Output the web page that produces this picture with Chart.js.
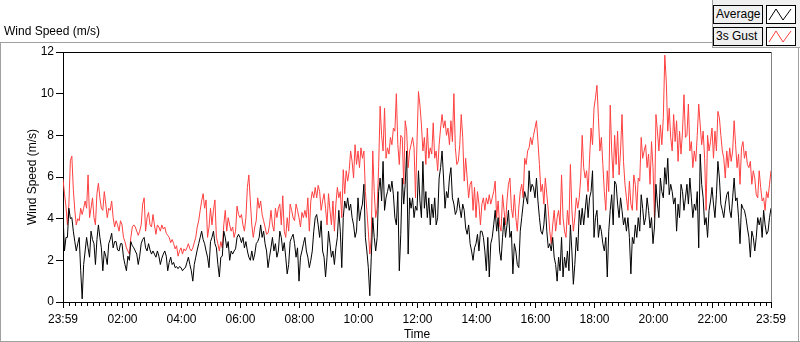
<!DOCTYPE html>
<html>
<head>
<meta charset="utf-8">
<script src="https://cdn.jsdelivr.net/npm/chart.js@4/dist/chart.umd.min.js"></script>
<style>
html,body{margin:0;padding:0;background:#fff;}
#wrap{position:relative;width:800px;height:342px;overflow:hidden;font-family:"Liberation Sans",Arial,sans-serif;font-size:12px;color:#000;}
#c{position:absolute;left:0;top:0;}
#title{position:absolute;left:4px;top:24px;white-space:nowrap;}
.fr{position:absolute;background:#a0a0a0;}
#lgArea{position:absolute;left:712px;top:0;width:88px;height:48px;background:#f0f0f0;border-left:1px solid #a0a0a0;border-bottom:1px solid #a0a0a0;box-sizing:border-box;}
.lgLbl{position:absolute;left:713px;width:50px;height:19px;box-sizing:border-box;border:1px solid #000;background:#f0f0f0;line-height:17px;padding-left:2px;white-space:nowrap;}
.lgIco{position:absolute;left:766px;width:30px;height:19px;box-sizing:border-box;border:1px solid #000;background:#fff;}
</style>
</head>
<body>
<div id="wrap">
  <canvas id="c" width="800" height="342"></canvas>
  <div id="title">Wind Speed (m/s)</div>
  <div class="fr" style="left:0;top:42px;width:712px;height:1px;"></div>
  <div class="fr" style="left:0;top:42px;width:1px;height:300px;"></div>
  <div class="fr" style="left:0;top:341px;width:800px;height:1px;"></div>
  <div class="fr" style="left:798px;top:48px;width:1px;height:294px;"></div>
  <div id="lgArea"></div>
  <div class="lgLbl" style="top:5px;">Average</div>
  <div class="lgIco" style="top:5px;"><svg width="28" height="17"><polyline points="2,14 9,3 16,14 24,3" fill="none" stroke="#000" stroke-width="1"/></svg></div>
  <div class="lgLbl" style="top:27px;">3s Gust</div>
  <div class="lgIco" style="top:27px;"><svg width="28" height="17"><polyline points="2,14 9,3 16,14 24,3" fill="none" stroke="#ff4040" stroke-width="1"/></svg></div>
</div>
<script>
// ---- data: one sample every 3 minutes, starting at 23:59 ----
const STEP_MIN = 3;
const gust = [
  // 23:59 - 04:47
  5.9,5.2,4.6,3.7,4.7,6.8,7.0,5.4,4.4,3.7,
  4.0,3.9,4.5,4.2,4.5,4.85,4.5,6.1,4.05,4.5,
  5.0,4.05,3.7,5.2,5.7,5.0,4.5,4.4,5.3,4.7,
  4.05,4.5,4.4,4.85,4.05,3.6,3.9,3.7,3.4,3.9,
  3.7,3.1,2.9,2.6,2.45,2.3,3.1,3.6,3.7,3.6,
  3.4,3.2,3.4,3.7,4.7,5.0,3.4,4.05,4.3,3.7,
  3.6,4.2,3.7,3.25,3.7,3.6,3.4,3.7,3.5,3.6,
  3.3,3.2,3.1,2.85,3.0,2.8,2.55,2.7,2.2,2.45,
  2.6,2.3,2.55,2.45,2.6,2.8,2.55,2.45,2.6,2.85,
  3.1,3.6,3.9,4.4,4.85,5.2,4.5,
  // 04:50 - 09:35
  4.9,3.1,3.6,4.5,3.7,4.4,4.9,3.1,2.8,2.45,
  2.9,2.6,3.7,4.4,3.4,4.05,3.7,3.4,3.6,3.1,
  3.4,4.6,4.2,4.05,4.2,3.7,3.4,4.05,5.5,6.1,
  4.85,3.7,3.1,3.6,3.9,5.0,4.5,4.85,4.2,3.9,
  3.6,3.25,3.3,3.7,4.4,3.7,3.4,4.5,4.05,4.5,
  4.7,3.7,5.1,3.4,3.1,4.05,3.4,4.7,4.4,4.05,
  3.9,4.7,4.4,4.05,3.6,4.3,4.05,4.4,4.05,5.0,
  3.4,4.85,5.3,5.0,5.5,5.0,5.6,5.3,4.4,4.85,
  5.2,4.5,3.7,5.2,4.4,3.7,4.85,3.4,4.7,5.5,
  5.0,5.3,4.05,6.35,5.2,6.3,
  // 09:38 - 14:23
  5.8,6.3,7.25,6.75,5.95,7.55,6.6,7.25,6.45,7.4,
  6.9,7.25,5.3,4.4,3.4,2.3,3.1,7.25,5.3,4.05,
  4.5,6.5,9.4,8.0,7.25,9.3,6.9,7.4,7.1,7.9,
  7.55,8.35,8.2,10.0,7.55,6.6,8.0,7.9,5.65,8.7,
  8.2,6.45,7.25,7.55,7.9,7.4,5.0,7.7,10.1,9.45,
  8.5,7.25,7.9,6.6,8.35,6.9,7.4,7.1,8.6,6.9,
  7.25,6.3,7.55,8.35,9.0,8.35,8.7,8.0,8.35,7.55,
  8.7,7.7,10.0,7.4,6.6,6.75,7.55,9.0,7.9,5.8,
  6.9,5.95,5.0,5.65,5.8,4.4,5.5,4.05,5.3,4.7,
  3.7,4.7,5.0,4.4,5.0,4.7,
  // 14:26 - 19:11
  5.15,4.7,5.0,5.3,5.8,4.05,4.85,3.7,3.4,5.15,
  4.4,3.7,4.85,5.65,5.95,4.5,4.05,5.15,4.05,3.4,
  4.5,5.3,5.65,5.0,6.9,6.6,7.25,7.4,7.9,7.55,
  8.0,8.35,8.7,7.7,6.6,5.3,5.65,4.7,5.95,5.15,
  4.4,3.4,2.8,3.7,4.4,3.4,4.05,4.4,3.7,6.1,
  4.05,3.4,3.1,4.4,3.7,6.6,4.4,3.4,4.05,5.0,
  4.5,5.0,5.95,8.0,6.45,5.95,6.3,5.3,6.9,8.35,
  7.55,9.3,9.8,10.4,8.85,7.25,7.9,6.6,5.3,4.4,
  6.3,5.3,9.45,7.25,5.95,8.0,6.6,8.2,6.1,7.25,
  9.0,6.75,5.65,5.0,4.4,5.8,
  // 19:14 - 23:59
  4.7,4.4,6.1,5.65,4.4,5.95,5.8,7.9,6.9,7.25,
  7.55,6.45,7.1,5.65,7.7,6.45,4.05,9.0,8.2,7.25,
  8.5,7.55,8.85,11.85,10.6,8.2,9.3,7.9,7.25,9.0,
  7.7,8.7,6.75,8.2,7.1,8.2,9.95,7.9,8.0,9.5,
  7.25,7.7,6.45,7.25,6.75,8.0,9.5,8.5,7.55,8.2,
  6.9,4.4,8.0,7.25,7.7,8.35,6.9,8.2,7.25,9.15,
  8.85,8.0,7.25,6.9,5.95,7.25,6.45,7.4,6.75,7.25,
  8.7,7.55,6.45,7.1,5.65,7.4,7.7,6.9,7.25,6.6,
  6.45,6.75,5.65,6.3,5.95,5.15,5.0,6.3,5.5,4.85,
  5.0,4.4,5.3,5.0,5.65,6.3
];
const average = [
  // 23:59 - 04:47
  4.2,2.45,3.1,3.1,4.5,4.0,4.05,3.4,2.9,2.45,
  2.8,3.1,1.5,0.15,1.8,2.45,3.1,2.6,2.15,3.4,
  3.0,2.8,1.8,3.0,3.7,3.1,2.6,1.5,2.45,2.2,
  1.8,2.8,3.0,3.3,2.6,2.9,2.9,2.5,2.45,2.8,
  2.8,2.15,1.8,1.5,2.2,2.0,2.9,2.7,2.6,2.45,
  2.3,1.8,2.2,2.8,3.0,3.1,2.6,2.45,2.8,2.5,
  2.3,2.45,2.3,2.15,2.45,2.2,1.8,2.1,2.3,2.45,
  2.2,1.5,1.9,2.15,1.8,1.9,1.65,1.7,1.6,1.7,
  1.65,1.5,1.6,1.65,1.9,2.15,1.8,1.5,1.0,1.8,
  2.15,2.5,2.8,3.1,3.4,3.0,2.8,
  // 04:50 - 09:35
  2.45,2.15,1.65,2.9,3.1,3.4,2.8,2.6,1.8,1.2,
  2.15,2.2,3.4,3.1,2.6,2.9,2.0,2.45,2.3,2.45,
  2.55,3.1,3.25,3.1,2.85,3.1,2.6,2.9,2.45,2.15,
  2.0,2.45,2.0,2.3,2.8,2.9,3.1,3.7,3.1,3.4,
  2.8,2.45,1.65,2.15,2.6,3.1,2.45,2.8,2.15,2.45,
  3.4,3.1,2.45,2.85,2.15,1.35,1.8,2.9,3.1,3.25,
  2.8,2.15,2.6,1.0,2.15,2.45,2.8,3.1,2.45,2.15,
  1.65,2.0,2.45,3.4,4.05,4.2,3.7,3.1,3.9,2.45,
  2.15,1.2,2.15,3.4,2.8,2.15,2.45,1.8,2.6,3.1,
  4.4,3.4,1.65,4.05,4.85,4.5,
  // 09:38 - 14:23
  5.0,4.4,4.7,4.05,3.7,3.1,3.4,5.0,3.9,4.4,
  4.7,5.65,3.1,2.45,1.65,0.3,2.15,4.05,3.1,2.45,
  3.1,5.3,5.95,4.85,6.75,4.4,5.0,5.3,5.65,5.3,
  5.8,5.15,4.05,3.7,5.3,1.5,3.25,5.95,4.7,5.65,
  7.25,2.3,5.0,4.5,5.0,4.05,4.6,4.4,6.3,4.85,
  4.05,6.75,4.5,5.3,4.05,5.0,3.7,4.7,4.05,5.0,
  3.7,4.05,5.95,6.45,7.25,5.95,4.5,5.3,5.0,5.95,
  6.45,5.0,4.7,4.2,4.4,5.0,4.5,4.05,4.7,4.4,
  3.55,3.25,3.7,2.8,2.45,2.0,2.6,2.8,3.25,2.45,
  3.4,3.4,3.1,2.45,1.5,3.1,
  // 14:26 - 19:11
  1.2,2.8,3.1,3.7,4.4,3.4,4.05,2.45,2.0,3.1,
  4.05,3.1,3.7,4.4,3.1,3.4,1.35,2.8,2.45,1.8,
  1.65,3.4,4.05,4.7,5.3,5.0,4.7,6.3,5.3,5.65,
  5.5,5.0,5.95,4.85,4.05,3.4,3.25,3.7,4.7,3.4,
  2.6,2.8,2.45,3.1,2.15,1.8,1.0,2.15,1.5,3.1,
  1.2,2.15,1.65,2.45,1.5,3.7,2.45,0.85,1.8,3.1,
  2.45,4.4,3.7,4.5,3.7,4.4,5.15,4.05,5.0,5.3,
  6.3,3.1,4.05,4.4,3.1,3.7,3.4,2.8,2.45,3.1,
  1.2,3.4,4.4,5.15,3.7,5.8,5.65,4.7,4.05,5.0,
  4.4,3.7,4.05,3.4,4.05,3.1,
  // 19:14 - 23:59
  1.35,3.1,2.8,3.7,3.1,4.05,3.4,5.15,4.5,3.7,
  4.05,5.0,4.4,3.55,4.05,2.8,3.6,5.65,4.7,4.05,
  5.95,5.3,5.0,6.45,5.65,6.9,5.15,5.65,5.3,4.7,
  5.0,3.4,4.7,4.05,5.65,5.3,4.4,5.0,5.65,4.7,
  5.95,5.0,4.05,4.7,4.4,5.3,2.6,7.1,5.65,5.0,
  3.7,4.05,3.1,4.4,4.85,5.5,4.7,4.05,5.15,6.75,
  5.95,4.7,4.4,4.05,4.7,5.15,5.3,4.4,4.05,5.0,
  5.95,4.85,5.0,4.05,2.8,4.7,4.5,4.4,4.05,3.55,
  3.1,2.15,3.4,3.1,2.45,3.1,4.05,3.7,4.05,3.1,
  4.4,3.7,3.25,3.4,4.05,4.5
];
const tickMinutes = [0,121,241,361,481,601,721,841,961,1081,1201,1321,1440];
const tickLabels = ["23:59","02:00","04:00","06:00","08:00","10:00","12:00","14:00","16:00","18:00","20:00","22:00","23:59"];
const yTicks = [0,2,4,6,8,10,12];
const MINOR_START = 1, MINOR_STEP = 12, X_MAX = 1440;

const FONT = {family:'"Liberation Sans", Arial, sans-serif', size:12};

const toPts = arr => arr.map((v,i)=>({x:i*STEP_MIN, y:v}));

const frame = {
  id:'frame',
  afterDraw(chart){
    const {ctx, chartArea:a} = chart;
    const sx = chart.scales.x;
    ctx.save();
    ctx.strokeStyle = '#000'; ctx.lineWidth = 1;
    ctx.beginPath(); ctx.moveTo(a.left, Math.round(a.top)+0.5); ctx.lineTo(a.right, Math.round(a.top)+0.5); ctx.stroke();
    ctx.strokeStyle = '#808080';
    ctx.beginPath(); ctx.moveTo(Math.round(a.right)+0.5, a.top); ctx.lineTo(Math.round(a.right)+0.5, a.bottom); ctx.stroke();
    ctx.strokeStyle = '#000';
    ctx.beginPath();
    for (let m = MINOR_START; m < X_MAX; m += MINOR_STEP) {
      if (tickMinutes.includes(m)) continue;
      const px = Math.round(sx.getPixelForValue(m)) + 0.5;
      ctx.moveTo(px, sx.top); ctx.lineTo(px, sx.top + 4);
    }
    ctx.stroke();
    ctx.restore();
  }
};

new Chart(document.getElementById('c'), {
  type:'line',
  data:{datasets:[
    {label:'Average', data:toPts(average), borderColor:'#000000', borderWidth:1, pointRadius:0, tension:0},
    {label:'3s Gust', data:toPts(gust), borderColor:'#ff4040', borderWidth:1, pointRadius:0, tension:0}
  ]},
  options:{
    responsive:false, animation:false, devicePixelRatio:1,
    layout:{padding:{left:0, right:29, top:52, bottom:0}},
    plugins:{legend:{display:false}, title:{display:false}, tooltip:{enabled:false}},
    scales:{
      x:{
        type:'linear', min:0, max:X_MAX,
        afterBuildTicks: s => { s.ticks = tickMinutes.map(v=>({value:v})); },
        afterFit: s => { s.height = 40; },
        ticks:{autoSkip:false, maxRotation:0, color:'#000', font:FONT, padding:4,
               callback:(v,i)=>tickLabels[i]},
        grid:{drawOnChartArea:false, drawTicks:true, tickLength:6, color:'#000'},
        border:{display:true, color:'#000'},
        title:{display:true, text:'Time', color:'#000', font:FONT, padding:{top:0,bottom:0}}
      },
      y:{
        min:0, max:12,
        afterBuildTicks: s => { s.ticks = yTicks.map(v=>({value:v})); },
        afterFit: s => { s.width = 63; },
        ticks:{color:'#000', font:FONT, padding:2},
        grid:{drawOnChartArea:false, drawTicks:true, tickLength:7, color:'#000'},
        border:{display:true, color:'#000'},
        title:{display:true, text:'Wind Speed (m/s)', color:'#000', font:FONT, padding:{top:25,bottom:0}}
      }
    }
  },
  plugins:[frame]
});
</script>
</body>
</html>
